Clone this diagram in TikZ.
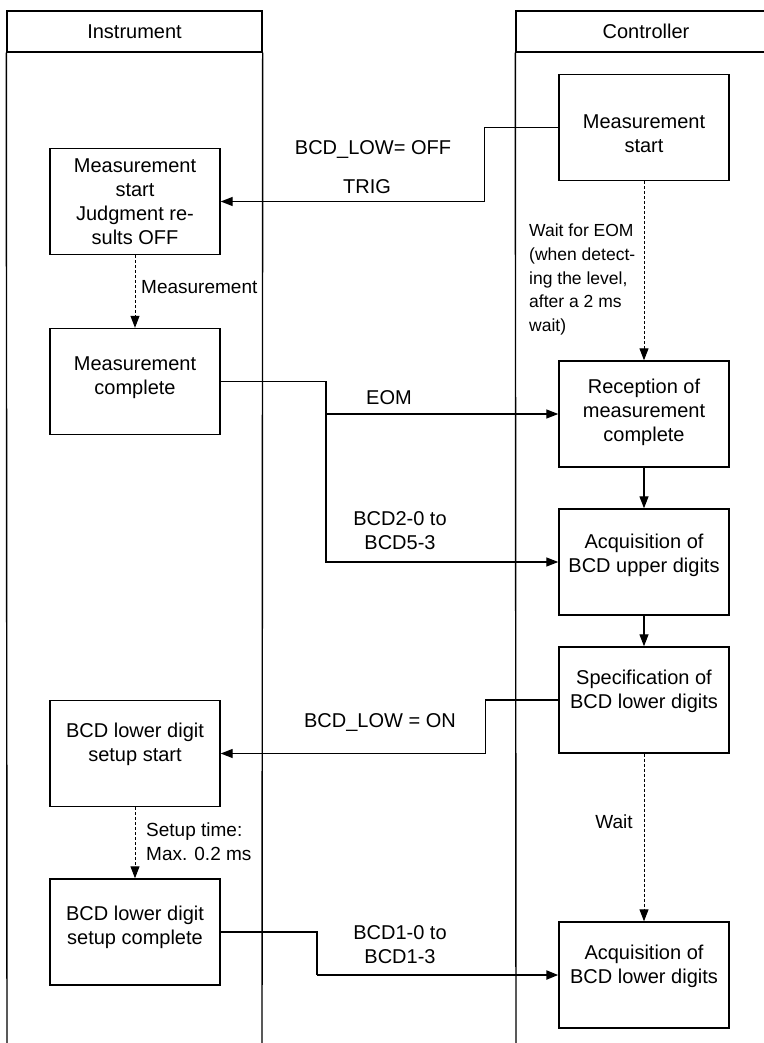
\documentclass[tikz,border=0pt]{standalone}
\usepackage{fontspec}
\setmainfont{Liberation Sans}
\usetikzlibrary{arrows.meta}
\begin{document}
\begin{tikzpicture}[x=1pt,y=-1pt,
  lane/.style={line width=1.4pt},
  hdr/.style={draw, line width=1.4pt, minimum height=41pt, inner sep=0pt, font=\fontsize{20}{24}\selectfont},
  box/.style={draw, line width=1.4pt, minimum width=170pt, minimum height=106pt, inner sep=0pt},
  txt/.style={align=center, font=\fontsize{20}{24}\selectfont, inner sep=0pt},
  lbl/.style={align=left, font=\fontsize{19}{23.7}\selectfont, inner sep=0pt},
  slbl/.style={align=left, font=\fontsize{17.5}{23.7}\selectfont, inner sep=0pt},
  clbl/.style={align=center, font=\fontsize{20}{24}\selectfont, inner sep=0pt},
  conn/.style={line width=1.3pt, -{Triangle[length=12pt,width=9pt]}},
  dconn/.style={line width=1pt, dash pattern=on 3pt off 2pt, -{Triangle[length=12pt,width=9pt]}}
]
\useasboundingbox (0,0) rectangle (763,1043);

% lanes
\node[hdr, minimum width=255pt] (hi) at (134.5,31.5) {Instrument};
\node[hdr, minimum width=260pt] (hc) at (646,31.5) {Controller};
\draw[lane] (hi.south west) -- (7,1050);
\draw[lane] (hi.south east) -- (262,1050);
\draw[lane] (hc.south west) -- (516,1050);

% controller boxes
\node[box] (c1) at (644,127.5) {};
\node[txt] (c1t) at (644,133.5) {Measurement\\start};
\node[box] (c2) at (644,414) {};
\node[txt] (c2t) at (644,412.5) {Reception of\\measurement\\complete};
\node[box] (c3) at (644,562) {};
\node[txt] (c3t) at (644,555) {Acquisition of\\BCD upper digits};
\node[box] (c4) at (644,700) {};
\node[txt] (c4t) at (644,691.5) {Specification of\\BCD lower digits};
\node[box] (c5) at (644,975) {};
\node[txt] (c5t) at (644,966.5) {Acquisition of\\BCD lower digits};

% instrument boxes
\node[box] (i1) at (135,201.5) {};
\node[txt] (i1t) at (135,201.5) {Measurement\\start\\Judgment re-\\sults OFF};
\node[box] (i2) at (135,381.5) {};
\node[txt] (i2t) at (135,377.5) {Measurement\\complete};
\node[box] (i3) at (135,753.5) {};
\node[txt] (i3t) at (135,744.5) {BCD lower digit\\setup start};
\node[box] (i4) at (135,932) {};
\node[txt] (i4t) at (135,927.5) {BCD lower digit\\setup complete};

% junctions
\coordinate (j1) at (326,414);
\coordinate (j2) at (317,975);

% connectors
\draw[conn] (c1.west) -- ++(-74,0) |- (i1.east);
\draw[dconn] (i1.south) -- (i2.north);
\draw[line width=1.3pt] (i2.east) -| (j1);
\draw[conn] (j1) -- (c2.west);
\draw[conn] (j1) |- (c3.west);
\draw[dconn] (c1.south) -- (c2.north);
\draw[conn] (c2.south) -- (c3.north);
\draw[conn] (c3.south) -- (c4.north);
\draw[conn] (c4.west) -- ++(-73,0) |- (i3.east);
\draw[dconn] (c4.south) -- (c5.north);
\draw[dconn] (i3.south) -- (i4.north);
\draw[line width=1.3pt] (i4.east) -| (j2);
\draw[conn, line width=2.2pt] (j2) -- (c5.west);

% labels
\node[clbl] (l1) at (373,150) {BCD\_LOW= OFF};
\node[clbl] (l2) at (367,187) {TRIG};
\node[lbl, anchor=west] (l3) at (141,287) {Measurement};
\node[clbl] (l4) at (389,398) {EOM};
\node[clbl] (l5) at (400,531) {BCD2-0 to\\BCD5-3};
\node[slbl, anchor=west] (l6) at (529,279.5) {Wait for EOM\\(when detect-\\ing the level,\\after a 2 ms\\wait)};
\node[clbl] (l7) at (380,722) {BCD\_LOW = ON};
\node[lbl] (l8) at (614,822) {Wait};
\node[lbl, anchor=west] (l9) at (146,841.5) {Setup time:\\Max. 0.2 ms};
\node[clbl] (l10) at (400,944.5) {BCD1-0 to\\BCD1-3};
\end{tikzpicture}
\end{document}
